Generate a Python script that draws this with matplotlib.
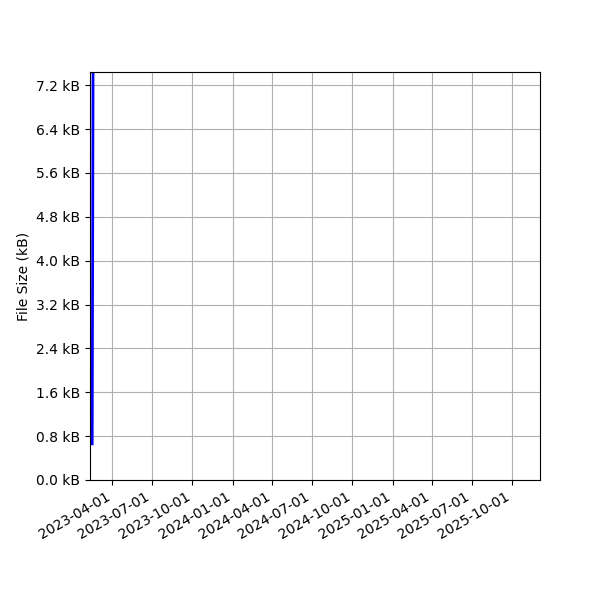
import numpy as np
import matplotlib
matplotlib.use("Agg")
import matplotlib.pyplot as plt
import matplotlib.dates as mdates
from matplotlib.ticker import FuncFormatter, MultipleLocator

# Datos
dates = np.array(["2023-02-14", "2023-02-15", "2023-02-16"], dtype="datetime64[D]")
sizes_kb = [0.66, 4.0, 7.6]

x_min = np.datetime64("2023-02-09")
x_max = np.datetime64("2025-12-04")

fig, ax = plt.subplots(figsize=(6, 6), dpi=100)
fig.subplots_adjust(left=0.15, right=0.9, top=0.88, bottom=0.2)

ax.plot(dates, sizes_kb, color="blue", linewidth=2)

ax.set_xlim(x_min, x_max)
ax.set_ylim(0, 7.44)
ax.yaxis.set_major_locator(MultipleLocator(0.8))
ax.yaxis.set_major_formatter(FuncFormatter(lambda v, p: f"{v:.1f} kB"))
ax.xaxis.set_major_locator(mdates.MonthLocator(bymonth=[1, 4, 7, 10]))
ax.xaxis.set_major_formatter(mdates.DateFormatter("%Y-%m-%d"))
ax.set_ylabel("File Size (kB)")
ax.grid(True, color="#b0b0b0")

plt.setp(ax.get_xticklabels(), rotation=30, ha="right")

fig.savefig("out.png", dpi=100)
